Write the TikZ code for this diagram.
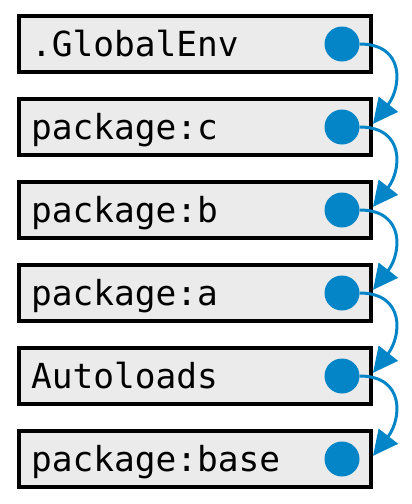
\documentclass[tikz,border=0pt]{standalone}
\usepackage{fontspec}
\setmonofont{DejaVu Sans Mono}
\usetikzlibrary{arrows.meta, positioning}
\definecolor{envfill}{HTML}{EBEBEB}
\definecolor{ptrblue}{HTML}{0385C8}

\begin{document}
\begin{tikzpicture}[x=1pt,y=1pt,node distance=83pt,on grid]
   \tikzset{
     env/.style={draw,line width=4pt,fill=envfill,minimum width=352pt,minimum height=56pt,
       text width=328pt,inner xsep=12pt,align=left,text height=32pt,text depth=7pt,
       font=\ttfamily\fontsize{34.5}{40}\selectfont},
     ptr/.style={circle,fill=ptrblue,minimum size=35pt,inner sep=0pt},
     conn/.style={color=ptrblue,line width=3pt,-{Triangle[length=25pt,width=24pt]},
       out=0,in=52,looseness=1.45}
   }
   \useasboundingbox (0,0) rectangle (412,-504);
   \node[env] (global) at (195,-44) {.GlobalEnv};
   \node[env] (pkgc)  [below=of global] {package:c};
   \node[env] (pkgb)  [below=of pkgc] {package:b};
   \node[env] (pkga)  [below=of pkgb] {package:a};
   \node[env] (autol) [below=of pkga] {Autoloads};
   \node[env] (base)  [below=of autol] {package:base};
   % pointers to the parent environment
   \node[ptr] (p_global) [right=147pt of global] {};
   \node[ptr] (p_c) [right=147pt of pkgc] {};
   \node[ptr] (p_b) [right=147pt of pkgb] {};
   \node[ptr] (p_a) [right=147pt of pkga] {};
   \node[ptr] (p_autol) [right=147pt of autol] {};
   \node[ptr] (p_base) [right=147pt of base] {};
    \path
    (p_global) edge[conn] (pkgc.1.5)
    (p_c) edge[conn] (pkgb.1.5)
    (p_b) edge[conn] (pkga.1.5)
    (p_a) edge[conn] (autol.1.5)
    (p_autol) edge[conn] (base.1.5);
\end{tikzpicture}
\end{document}
